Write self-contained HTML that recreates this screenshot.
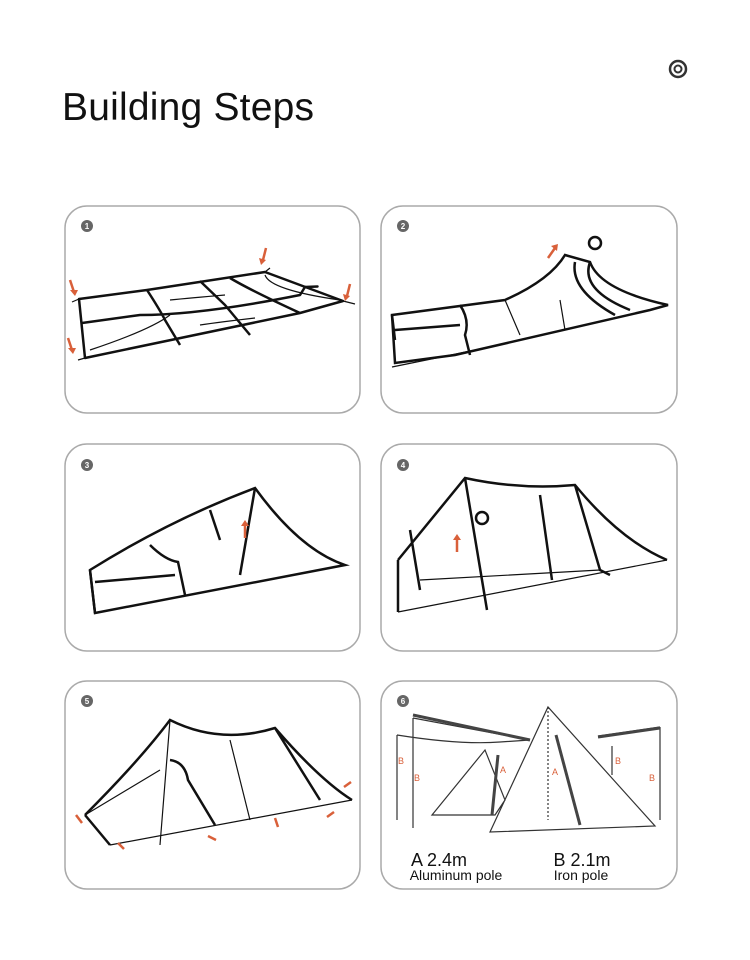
<!DOCTYPE html>
<html><head><style>
body{margin:0;background:#fff;width:750px;height:960px;overflow:hidden}
svg{display:block}
</style></head><body>
<svg width="750" height="960" xmlns="http://www.w3.org/2000/svg" font-family="Liberation Sans, sans-serif">
<text x="62" y="120" font-size="39" fill="#111" textLength="252">Building Steps</text>
<circle cx="678" cy="69" r="8" fill="none" stroke="#333" stroke-width="2.5"/><circle cx="678" cy="69" r="3.5" fill="none" stroke="#333" stroke-width="2"/>
<g fill="none" stroke="#aaa" stroke-width="1.5">
<rect x="65" y="206" width="295" height="207" rx="22"/>
<rect x="381" y="206" width="296" height="207" rx="22"/>
<rect x="65" y="444" width="295" height="207" rx="22"/>
<rect x="381" y="444" width="296" height="207" rx="22"/>
<rect x="65" y="681" width="295" height="208" rx="22"/>
<rect x="381" y="681" width="296" height="208" rx="22"/>
</g>
<g fill="#666">
<circle cx="87" cy="226" r="6"/><circle cx="403" cy="226" r="6"/><circle cx="87" cy="465" r="6"/><circle cx="403" cy="465" r="6"/><circle cx="87" cy="701" r="6"/><circle cx="403" cy="701" r="6"/>
</g>
<g fill="#fff" font-size="8" font-weight="bold" text-anchor="middle">
<text x="87" y="229">1</text><text x="403" y="229">2</text><text x="87" y="468">3</text><text x="403" y="468">4</text><text x="87" y="704">5</text><text x="403" y="704">6</text>
</g>
<g fill="none" stroke="#111" stroke-width="2.5" stroke-linejoin="round">
<path d="M79 299 L147 290 L265 272 L343 301 L300 313 L85 358 Z"/>
<path d="M147 290 Q160 310 165 320 L180 345 M200 281 L225 305 L250 335 M230 278 Q250 290 300 313 M82 323 L140 315 Q200 315 300 295 L305 287 Q330 286 305 287"/>
</g>
<g fill="none" stroke="#111" stroke-width="1.2">
<path d="M72 302 L79 299 M78 360 L85 358 M343 301 L355 304 M265 272 L270 268 M90 350 Q150 330 170 315 M170 300 Q190 298 225 295 M200 325 Q220 322 255 318 M265 275 Q270 290 340 300"/>
</g>
<g fill="none" stroke="#111" stroke-width="2.5">
<path d="M392 315 L505 300 Q550 280 565 255 L590 262 Q600 290 668 305 L650 310 L455 355 L395 363 Z"/>
<path d="M392 315 L395 340 M460 305 Q470 320 465 335 L470 355 M590 262 Q580 290 630 310 M575 262 Q570 290 615 315 M395 330 L460 325"/>
<circle cx="595" cy="243" r="6"/>
</g>
<g fill="none" stroke="#111" stroke-width="1.2"><path d="M392 367 L500 345 M505 300 L520 335 M560 300 L565 330"/></g>
<g fill="none" stroke="#111" stroke-width="2.5">
<path d="M90 570 Q170 520 255 488 Q300 550 345 565 L95 613 Z"/>
<path d="M90 570 L95 613 M150 545 Q165 560 178 562 L185 595 M95 582 L175 575 M255 488 L240 575 M210 510 L220 540"/>
</g>
<g fill="none" stroke="#111" stroke-width="2.5">
<path d="M398 560 L465 478 Q520 490 575 485 Q620 540 667 560 M398 560 L398 612 M465 478 L487 610 M575 485 L600 570 L610 575 M540 495 L552 580 M410 530 L420 590"/>
<circle cx="482" cy="518" r="6"/>
</g>
<g fill="none" stroke="#111" stroke-width="1.2"><path d="M398 612 L667 560 M420 580 L600 570"/></g>
<g fill="none" stroke="#111" stroke-width="2.5">
<path d="M85 815 Q140 760 170 720 Q220 745 275 728 Q320 780 352 800 M170 760 Q185 762 188 780 L215 825 M275 728 L320 800 M85 815 L110 845"/>
</g>
<g fill="none" stroke="#111" stroke-width="1.2"><path d="M110 845 L352 800 M170 720 L160 845 M230 740 L250 820 M85 815 L160 770"/></g>
<g fill="none" stroke="#333" stroke-width="1.2">
<path d="M397 735 L397 820 M413 718 L413 828 M660 727 L660 820 M612 746 L612 775 M413 718 L530 740 M397 735 Q460 745 500 742 L530 740 M598 736 L660 727 M490 832 L548 707 L655 826 Z M432 815 L485 750 L505 800 L495 815 Z"/>
<path d="M548 707 L548 820" stroke-dasharray="2 2"/>
</g>
<g stroke="#444" stroke-width="3"><path d="M413 715 L530 740 M598 737 L660 728 M556 735 L580 825 M498 755 L492 815"/></g>
<g fill="#d9603a" font-size="9">
<text x="398" y="764">B</text><text x="414" y="781">B</text><text x="500" y="773">A</text><text x="552" y="775">A</text><text x="615" y="764">B</text><text x="649" y="781">B</text>
</g>
<g fill="#111" text-anchor="middle">
<text x="439" y="866" font-size="18">A 2.4m</text><text x="582" y="866" font-size="18">B 2.1m</text>
<text x="456" y="880" font-size="14">Aluminum pole</text><text x="581" y="880" font-size="14">Iron pole</text>
</g>
<g fill="none" stroke="#d9603a" stroke-width="2.5">
<path d="M70 280 l4 12 M266 248 l-3 12 M350 284 l-3 12 M68 338 l4 12 M548 258 l7 -10 M245 538 l0 -12 M457 552 l0 -12"/>
<path d="M76 815 l6 8 M118 843 l6 6 M208 836 l8 4 M275 818 l3 9 M334 812 l-7 5 M351 782 l-7 5"/>
</g>
<g fill="#d9603a">
<path d="M70 290 l8 0 l-3 6 Z M259 258 l7 2 l-5 5 Z M343 294 l7 2 l-5 5 Z M68 348 l8 0 l-3 6 Z M551 246 l7 -2 l-1 7 Z M241 526 l8 0 l-4 -6 Z M453 540 l8 0 l-4 -6 Z"/>
</g>
</svg>
</body></html>
